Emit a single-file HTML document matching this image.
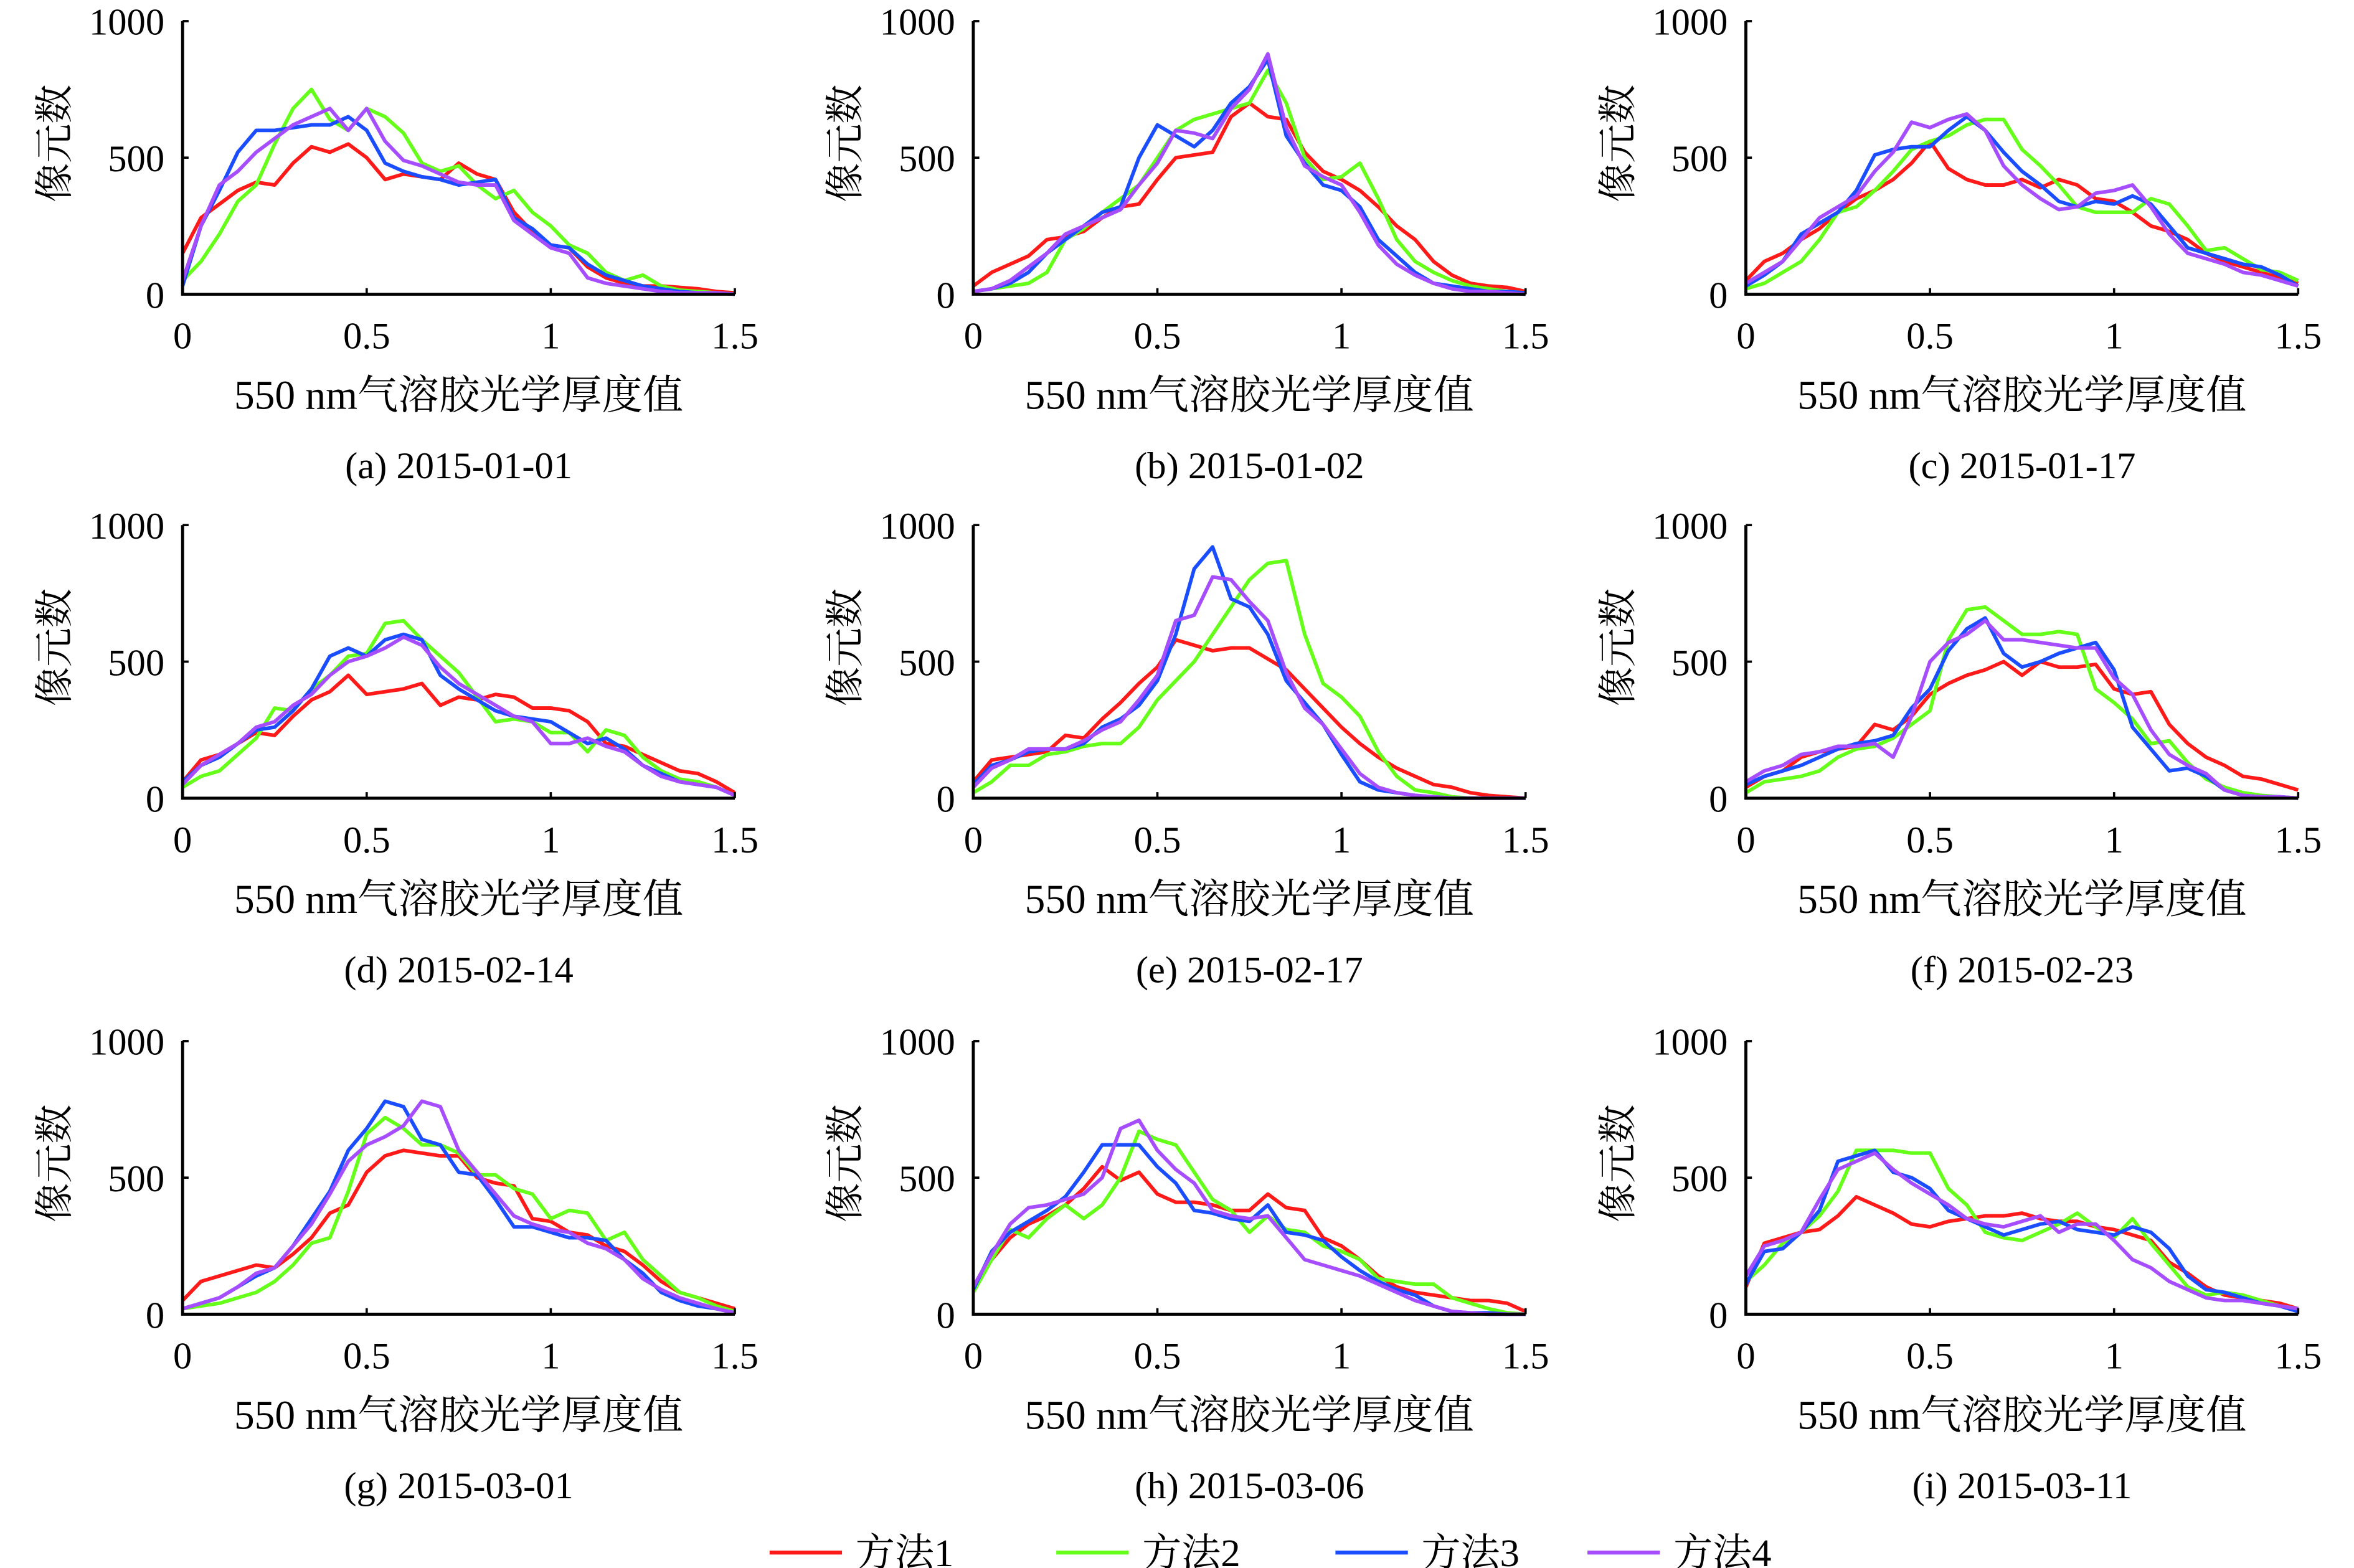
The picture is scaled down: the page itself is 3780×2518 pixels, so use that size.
<!DOCTYPE html>
<html><head><meta charset="utf-8">
<style>
html,body{margin:0;padding:0;background:#fff;}
svg{display:block;}
text{font-family:"Liberation Serif","Noto Serif CJK SC","Noto Sans CJK SC",serif;fill:#000;}
</style></head>
<body>
<svg id="fig" width="3780" height="2518" viewBox="0 0 1560 1039.2" preserveAspectRatio="none" xmlns="http://www.w3.org/2000/svg"></svg>
<script>
const xTicks=[0,0.5,1,1.5];
const xTickLabels=["0","0.5","1","1.5"];
const yTicks=[0,500,1000];
const yTickLabels=["0","500","1000"];
const xStep=0.05;
const methodNames=["方法1","方法2","方法3","方法4"];
const captions=["(a) 2015-01-01","(b) 2015-01-02","(c) 2015-01-17","(d) 2015-02-14","(e) 2015-02-17","(f) 2015-02-23","(g) 2015-03-01","(h) 2015-03-06","(i) 2015-03-11"];
const pA1=[150,280,330,380,410,400,480,540,520,550,500,420,440,430,420,480,440,420,300,230,180,170,100,60,40,30,30,25,20,10,5];
const pA2=[50,120,220,340,400,550,680,750,640,600,680,650,590,480,450,470,400,350,380,300,250,180,150,80,50,70,30,15,10,5,0];
const pA3=[30,250,380,520,600,600,610,620,620,650,600,480,450,430,420,400,410,420,280,240,180,170,110,70,50,30,20,10,5,5,0];
const pA4=[50,250,400,450,520,570,620,650,680,600,680,560,490,470,440,410,400,400,270,220,170,150,60,40,30,20,10,5,5,5,0];
const pB1=[30,80,110,140,200,210,230,280,320,330,420,500,510,520,650,700,650,640,520,450,420,380,320,250,200,120,70,40,30,25,10];
const pB2=[10,20,30,40,80,200,240,300,350,400,500,600,640,660,680,700,820,700,500,420,430,480,350,200,120,80,50,30,20,10,5];
const pB3=[10,20,40,80,150,200,250,300,320,500,620,580,540,600,700,760,860,580,480,400,380,320,200,140,80,40,30,20,10,10,5];
const pB4=[10,20,50,100,150,220,250,280,310,400,480,600,590,570,680,750,880,610,470,430,400,300,180,110,70,40,20,10,10,5,0];
const pC1=[50,120,150,200,240,300,350,380,420,480,560,460,420,400,400,420,390,420,400,350,340,300,250,230,200,150,120,100,80,60,40];
const pC2=[20,40,80,120,200,300,320,380,450,530,560,580,620,640,640,530,470,400,320,300,300,300,350,330,250,160,170,130,90,80,50];
const pC3=[30,70,120,220,260,300,380,510,530,540,540,600,650,600,520,450,400,340,320,340,330,360,330,250,170,150,130,110,100,70,30];
const pC4=[40,80,120,200,280,320,360,450,520,630,610,640,660,600,470,400,350,310,320,370,380,400,320,220,150,130,110,80,70,50,30];
const pD1=[60,140,160,200,240,230,300,360,390,450,380,390,400,420,340,370,360,380,370,330,330,320,280,200,190,160,130,100,90,60,20];
const pD2=[40,80,100,160,220,330,320,400,450,520,530,640,650,580,520,460,370,280,290,280,240,240,170,250,230,150,100,70,60,40,10];
const pD3=[60,120,150,200,250,260,320,400,520,550,520,580,600,580,450,400,360,320,300,290,280,240,200,220,180,120,90,60,50,40,10];
const pD4=[50,120,160,200,260,280,340,380,450,500,520,550,590,560,480,420,380,340,300,280,200,200,220,190,170,120,80,60,50,40,10];
const pE1=[60,140,150,160,170,230,220,290,350,420,480,580,560,540,550,550,510,470,400,330,260,200,150,110,80,50,40,20,10,5,0];
const pE2=[20,60,120,120,160,170,190,200,200,260,360,430,500,600,700,800,860,870,600,420,370,300,170,80,30,20,5,0,0,0,0];
const pE3=[50,120,140,170,180,180,200,260,290,340,430,600,840,920,730,700,600,430,350,270,160,60,30,20,10,5,0,0,0,0,0];
const pE4=[40,110,140,180,180,180,210,250,280,360,450,650,670,810,800,720,650,460,330,270,180,90,40,20,10,5,0,0,0,0,0];
const pF1=[40,80,100,150,170,180,190,270,250,300,380,420,450,470,500,450,500,480,480,490,400,380,390,270,200,150,120,80,70,50,30];
const pF2=[20,60,70,80,100,150,180,190,220,270,320,580,690,700,650,600,600,610,600,400,350,290,200,210,130,70,40,20,10,5,0];
const pF3=[50,80,100,120,150,180,200,210,230,330,400,540,620,660,530,480,500,530,550,570,470,260,180,100,110,80,30,10,5,5,0];
const pF4=[60,100,120,160,170,190,190,200,150,300,500,570,600,650,580,580,570,560,550,550,440,380,250,160,120,90,30,10,5,5,0];
const pG1=[50,120,140,160,180,170,220,280,370,400,520,580,600,590,580,580,500,480,470,350,340,300,290,250,230,180,120,80,60,40,20];
const pG2=[20,30,40,60,80,120,180,260,280,450,660,720,680,620,620,590,510,510,460,440,350,380,370,270,300,200,140,80,60,30,10];
const pG3=[20,40,60,100,140,170,250,350,450,600,680,780,760,640,620,520,510,420,320,320,300,280,280,270,200,150,80,50,30,20,5];
const pG4=[20,40,60,100,150,170,250,330,440,560,620,650,690,780,760,600,520,440,360,330,310,300,260,240,200,130,90,60,40,20,5];
const pH1=[100,200,280,330,360,400,460,540,490,520,440,410,410,400,380,380,440,390,380,280,250,200,140,100,80,70,60,50,50,40,10];
const pH2=[80,200,310,280,350,400,350,400,500,670,640,620,520,420,380,300,360,310,300,250,230,200,130,120,110,110,60,40,20,5,0];
const pH3=[90,230,300,340,380,430,520,620,620,620,540,480,380,370,350,340,400,300,290,270,210,160,120,90,70,30,10,5,5,0,0];
const pH4=[100,220,330,390,400,420,440,500,680,710,600,530,480,380,360,350,360,280,200,180,160,140,110,80,50,30,10,5,0,0,0];
const pI1=[100,260,280,300,310,360,430,400,370,330,320,340,350,360,360,370,350,340,340,320,310,290,270,190,150,100,70,60,50,40,20];
const pI2=[120,180,260,300,360,450,600,600,600,590,590,460,400,300,280,270,300,330,370,320,280,350,260,180,100,70,80,70,50,30,20];
const pI3=[110,230,240,300,380,560,580,600,520,500,460,380,350,320,290,310,330,340,310,300,290,320,300,240,140,90,80,60,40,30,10];
const pI4=[140,250,270,300,420,530,560,590,530,480,440,400,350,330,320,340,360,300,330,330,270,200,170,120,90,60,50,50,40,30,20];

const panels=[[pA1,pA2,pA3,pA4],[pB1,pB2,pB3,pB4],[pC1,pC2,pC3,pC4],[pD1,pD2,pD3,pD4],[pE1,pE2,pE3,pE4],[pF1,pF2,pF3,pF4],[pG1,pG2,pG3,pG4],[pH1,pH2,pH3,pH4],[pI1,pI2,pI3,pI4]];
const colors=["#ff1a1a","#66ff1a","#1a4dff","#a64dff"];
const colX=[121,645,1157], rowY=[195,529,871];
const W=366, H=181, XMAX=1.5, YMAX=1000;
const NS="http://www.w3.org/2000/svg";
const svg=document.getElementById('fig');
function mk(tag,attrs,parent){const e=document.createElementNS(NS,tag);for(const k in attrs)e.setAttribute(k,attrs[k]);(parent||svg).appendChild(e);return e;}

panels.forEach((series,pi)=>{
  const x0=colX[pi%3], y0=rowY[Math.floor(pi/3)];
  const sx=v=>x0+v/XMAX*W, sy=v=>y0-v/YMAX*H;
  const g=mk('g',{});
  
  
  series.forEach((vals,si)=>{
    const pts=vals.map((v,i)=>sx(i*xStep).toFixed(2)+','+sy(v).toFixed(2)).join(' ');
    const pl=mk('polyline',{points:pts,fill:'none',stroke:colors[si],'stroke-width':2.4,'stroke-linejoin':'round'},g);
    
    
  });
  const ax=mk('path',{d:`M${x0},${y0-H} L${x0},${y0} L${x0+W},${y0}`,fill:'none',stroke:'#000','stroke-width':2},g);
  
  
  xTicks.forEach((t,i)=>{
    mk('line',{x1:sx(t),x2:sx(t),y1:y0,y2:y0-4,stroke:'#000','stroke-width':1.5},g);
    const tx=mk('text',{x:sx(t),y:y0+36,'font-size':25,'text-anchor':'middle'},g);
    tx.textContent=xTickLabels[i];
    
    
  });
  yTicks.forEach((t,i)=>{
    mk('line',{x1:x0,x2:x0+4,y1:sy(t),y2:sy(t),stroke:'#000','stroke-width':1.5},g);
    const ty=mk('text',{x:x0-12,y:sy(t)+9,'font-size':25,'text-anchor':'end'},g);
    ty.textContent=yTickLabels[i];
    
    
  });
  const yl=mk('text',{x:0,y:0,'font-size':26,'text-anchor':'middle',transform:`translate(${x0-76},${y0-100}) rotate(-90)`},g);
  yl.textContent='像元数';
  
  
  const xl=mk('text',{x:x0+W/2,y:y0+76,'font-size':27,'text-anchor':'middle'},g);
  xl.textContent='550 nm气溶胶光学厚度值';
  
  
  const cp=mk('text',{x:x0+W/2,y:y0+122,'font-size':25,'text-anchor':'middle'},g);
  cp.textContent=captions[pi];
  
  
});

const legX=[510,700,885,1052];
const lg=mk('g',{});


methodNames.forEach((n,i)=>{
  const l=mk('line',{x1:legX[i],x2:legX[i]+48,y1:1029,y2:1029,stroke:colors[i],'stroke-width':2.6},lg);
  
  
  const t=mk('text',{x:legX[i]+57,y:1038,'font-size':26},lg);
  t.textContent=n;
  
  
});
</script>
</body></html>
